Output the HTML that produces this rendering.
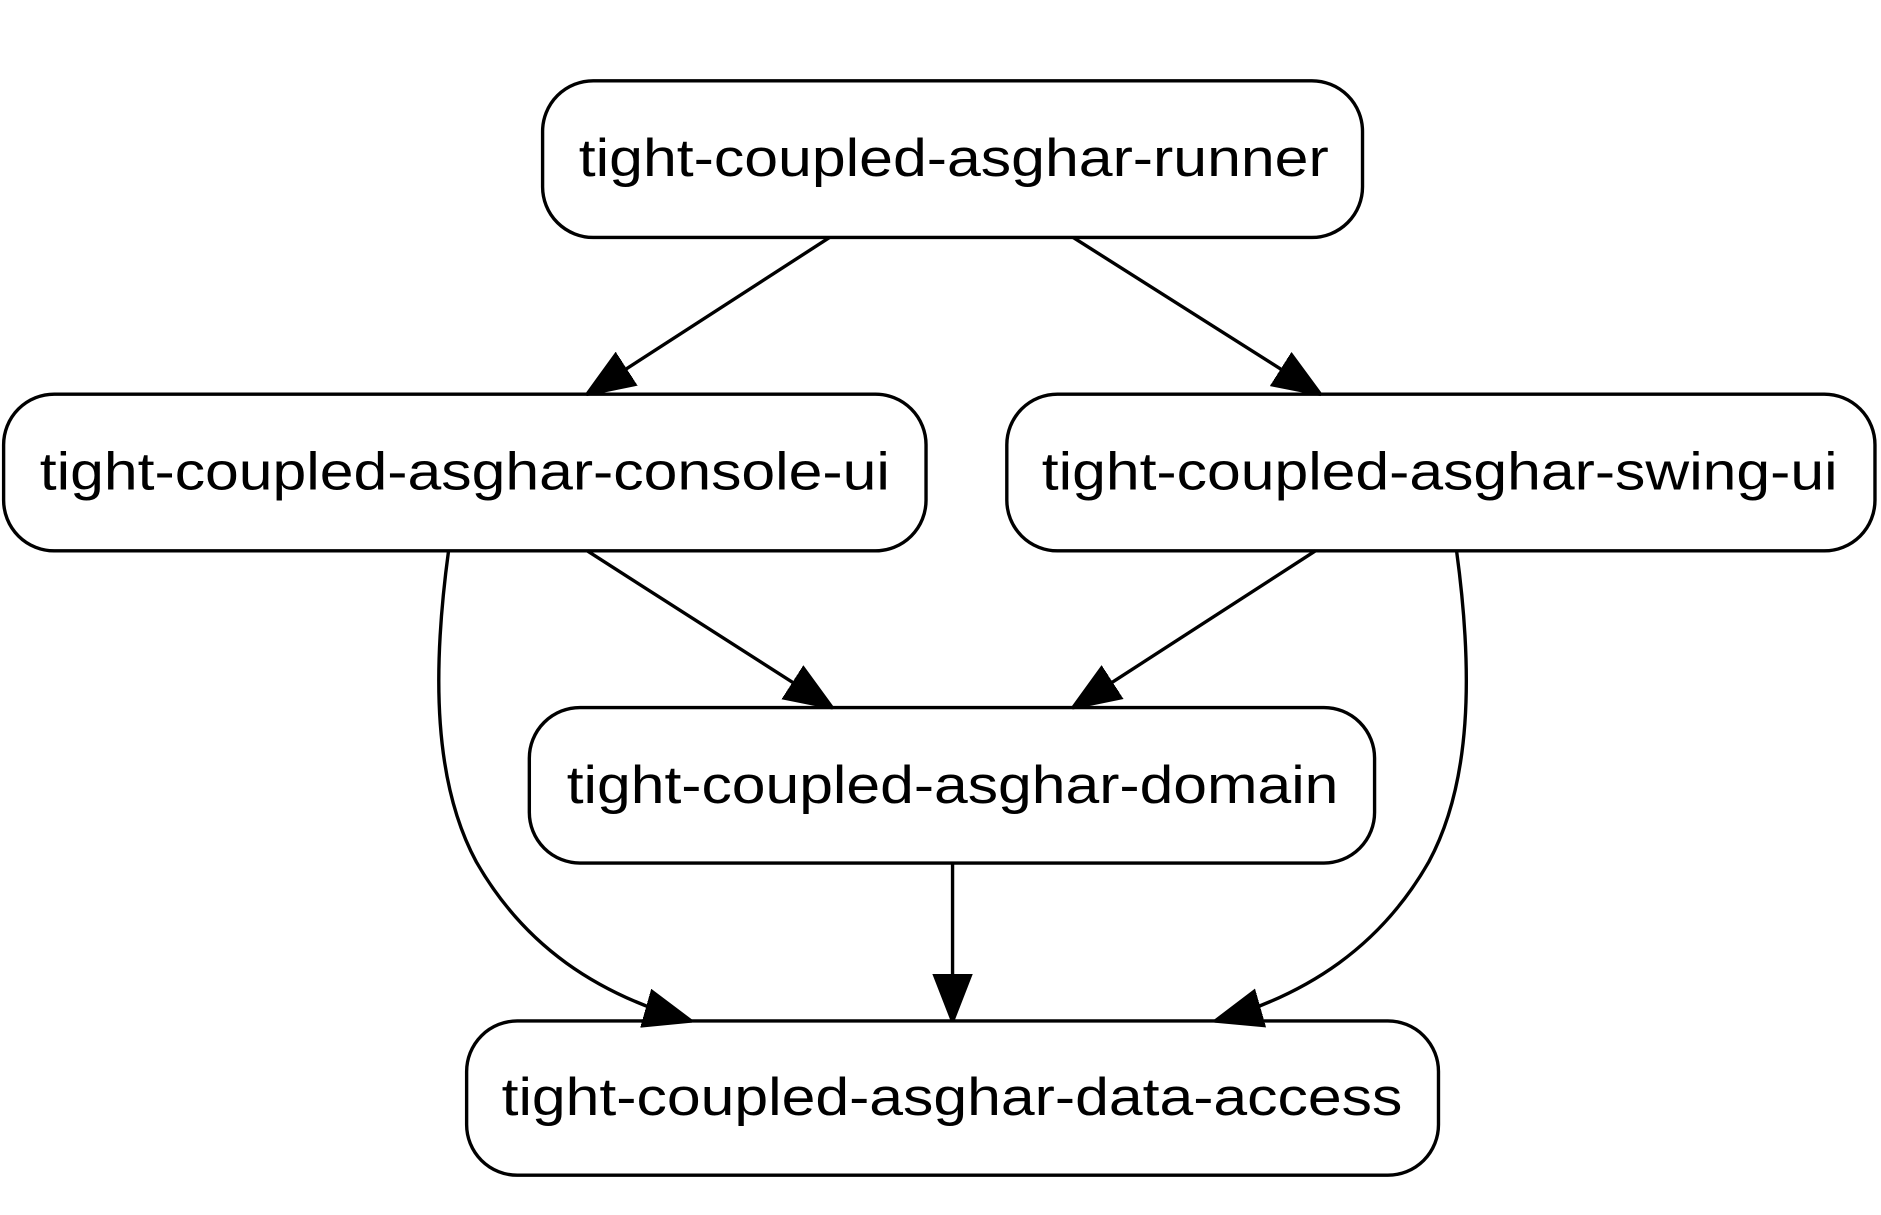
<!DOCTYPE html>
<html><head><meta charset="utf-8"><style>html,body{margin:0;padding:0;background:#fff}svg{display:block}</style></head>
<body>
<svg width="1881" height="1215" viewBox="0 0 1560 1008" preserveAspectRatio="none" xmlns="http://www.w3.org/2000/svg">
<defs>
<marker id="a" markerUnits="userSpaceOnUse" markerWidth="40" markerHeight="40" viewBox="0 0 36 30" refX="35" refY="15" orient="auto">
<polygon points="0,1 36,15 0,29" fill="#000" stroke="#000" stroke-width="2"/>
</marker>
</defs>
<g fill="#fff" stroke="#000" stroke-width="2.8">
<rect x="450" y="67" width="680" height="130" rx="42"/>
<rect x="3" y="327" width="765" height="130" rx="42"/>
<rect x="835" y="327" width="720" height="130" rx="42"/>
<rect x="439" y="587" width="701" height="129" rx="42"/>
<rect x="387" y="847" width="806" height="128" rx="42"/>
</g>
<g fill="none" stroke="#000" stroke-width="2.8" marker-end="url(#a)">
<path d="M688,197 L487,327"/>
<path d="M890,197 L1095,327"/>
<path d="M487,457 L690,587"/>
<path d="M1091,457 L890,587"/>
<path d="M790,716 L790,847"/>
<path d="M372,457 C358,560 360,650 395,715 C435,785 495,825 573,847"/>
<path d="M1208,457 C1222,560 1220,650 1185,715 C1145,785 1085,825 1008,847"/>
</g>
<g font-family="Liberation Sans, Arial, sans-serif" font-size="44" fill="#000">
<text x="480" y="146" textLength="622" lengthAdjust="spacingAndGlyphs">tight-coupled-asghar-runner</text>
<text x="33" y="406" textLength="705" lengthAdjust="spacingAndGlyphs">tight-coupled-asghar-console-ui</text>
<text x="864" y="406" textLength="660" lengthAdjust="spacingAndGlyphs">tight-coupled-asghar-swing-ui</text>
<text x="470" y="666" textLength="640" lengthAdjust="spacingAndGlyphs">tight-coupled-asghar-domain</text>
<text x="416" y="925" textLength="747" lengthAdjust="spacingAndGlyphs">tight-coupled-asghar-data-access</text>
</g>
</svg>
</body></html>
